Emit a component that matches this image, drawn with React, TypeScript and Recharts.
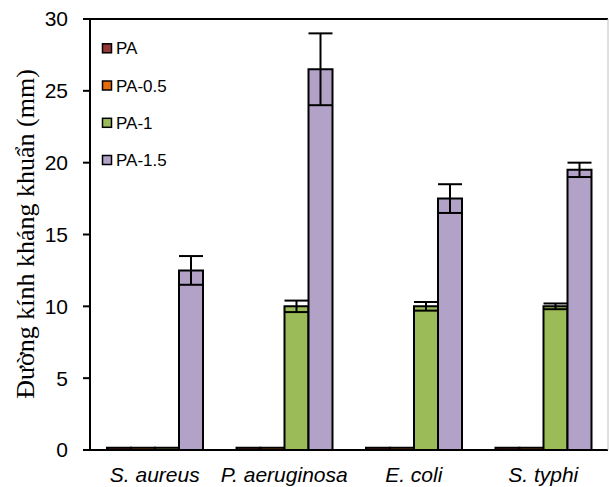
import React from "react";
import { BarChart, Bar, XAxis, YAxis, ErrorBar, ReferenceLine } from "recharts";

const categories = ["S. aureus", "P. aeruginosa", "E. coli", "S. typhi"];
const seriesNames = ["PA", "PA-0.5", "PA-1", "PA-1.5"];
const paValues = [0.15, 0.15, 0.15, 0.15];
const pa05Values = [0.15, 0.15, 0.15, 0.15];
const pa1Values = [0.15, 10, 10, 10];
const pa15Values = [12.5, 26.5, 17.5, 19.5];
const pa1Errors = [0, 0.4, 0.3, 0.2];
const pa15Errors = [1, 2.5, 1, 0.5];
const yTicks = [0, 5, 10, 15, 20, 25, 30];
const colors = ["#953735", "#E46C0A", "#9BBB59", "#B3A2C7"];
const yLabel = "Đường kính kháng khuẩn (mm)";

const data = categories.map((c, i) => ({
  name: c,
  pa: paValues[i],
  pa05: pa05Values[i],
  pa1: pa1Values[i],
  pa15: pa15Values[i],
  pa1Err: pa1Errors[i],
  pa15Err: pa15Errors[i],
}));

const FONT = "'Liberation Sans', Arial, sans-serif";

const YTick = (props: any) => {
  const { x, y, payload } = props;
  return (
    <text x={x} y={y} dy="0.355em" textAnchor="end" fontFamily={FONT} fontSize={21} fill="#000">
      {payload.value}
    </text>
  );
};

const XTick = (props: any) => {
  const { x, y, payload } = props;
  return (
    <text x={x} y={y} dy="0.71em" textAnchor="middle" fontFamily={FONT} fontSize={21} fontStyle="italic" fill="#000">
      {payload.value}
    </text>
  );
};

const legendRows = [48.3, 85.5, 122.8, 160];

export default function App() {
  return (
    <div style={{ position: "absolute", left: 0, top: 0, background: "#fff" }}>
      <BarChart
        width={609}
        height={487}
        data={data}
        margin={{ top: 19, right: 0, left: 0, bottom: 0 }}
        barSize={24}
        barGap={0}
      >
        <XAxis
          dataKey="name"
          height={37}
          axisLine={{ stroke: "#000", strokeWidth: 2 }}
          tickLine={false}
          tickSize={6}
          tickMargin={11}
          tick={<XTick />}
          interval={0}
        />
        <YAxis
          yAxisId="l"
          width={90}
          domain={[0, 30]}
          ticks={yTicks}
          axisLine={{ stroke: "#000", strokeWidth: 2 }}
          tickLine={{ stroke: "#000", strokeWidth: 2 }}
          tickSize={7}
          tickMargin={15}
          tick={<YTick />}
          interval={0}
        />
        <YAxis
          yAxisId="r"
          orientation="right"
          width={1}
          domain={[0, 30]}
          tick={false}
          tickLine={false}
          axisLine={{ stroke: "#bfbfbf", strokeWidth: 1 }}
        />
        <ReferenceLine yAxisId="l" y={30} stroke="#000" strokeWidth={2} />
        <Bar yAxisId="l" dataKey="pa" name="PA" fill={colors[0]} stroke="#000" strokeWidth={2} isAnimationActive={false} />
        <Bar yAxisId="l" dataKey="pa05" name="PA-0.5" fill={colors[1]} stroke="#000" strokeWidth={2} isAnimationActive={false} />
        <Bar yAxisId="l" dataKey="pa1" name="PA-1" fill={colors[2]} stroke="#000" strokeWidth={2} isAnimationActive={false}>
          <ErrorBar dataKey="pa1Err" width={12} stroke="#000" strokeWidth={2} />
        </Bar>
        <Bar yAxisId="l" dataKey="pa15" name="PA-1.5" fill={colors[3]} stroke="#000" strokeWidth={2} isAnimationActive={false}>
          <ErrorBar dataKey="pa15Err" width={12} stroke="#000" strokeWidth={2} />
        </Bar>
      </BarChart>
      <svg width={609} height={487} style={{ position: "absolute", left: 0, top: 0, pointerEvents: "none" }}>
        <text
          x={34}
          y={234}
          transform="rotate(-90, 34, 234)"
          textAnchor="middle"
          fontFamily="'Liberation Serif', 'Times New Roman', serif"
          fontSize={26}
          fill="#000"
        >
          {yLabel}
        </text>
        {seriesNames.map((n, i) => (
          <g key={n}>
            <rect x={102.5} y={legendRows[i] - 4.5} width={9} height={9} fill={colors[i]} stroke="#000" strokeWidth={1.5} />
            <text x={116} y={legendRows[i]} dy="0.355em" fontFamily={FONT} fontSize={17} fill="#000">
              {n}
            </text>
          </g>
        ))}
      </svg>
    </div>
  );
}
